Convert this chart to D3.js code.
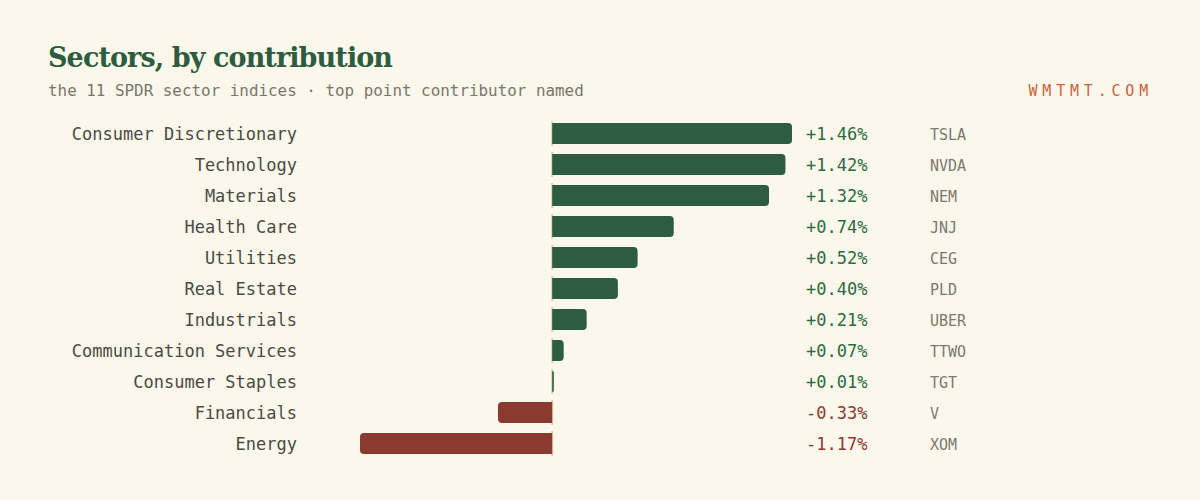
<!DOCTYPE html>
<html>
<head>
<meta charset="utf-8">
<script src="https://cdn.jsdelivr.net/npm/d3@7"></script>
<style>
  body { margin: 0; background: #fbf8eb; }
  svg { display: block; }
</style>
</head>
<body>
<div class="graph"></div>
<script>
let w = 1200;
let h = 500;

// sectors, top to bottom
let sectors = [
  "Consumer Discretionary", "Technology", "Materials", "Health Care",
  "Utilities", "Real Estate", "Industrials", "Communication Services",
  "Consumer Staples", "Financials", "Energy"
];
let contrib = [1.46, 1.42, 1.32, 0.74, 0.52, 0.40, 0.21, 0.07, 0.01, -0.33, -1.17];
let tickers = ["TSLA", "NVDA", "NEM", "JNJ", "CEG", "PLD", "UBER", "TTWO", "TGT", "V", "XOM"];

let green = "#2e5c40";
let red = "#8b3a2f";
let mono = "'DejaVu Sans Mono', 'Liberation Mono', monospace";

let data = sectors.map((s, i) => ({ sector: s, value: contrib[i], ticker: tickers[i] }));

let svg = d3.select(".graph").append("svg").attr("width", w).attr("height", h);
svg.append("rect").attr("width", w).attr("height", h).attr("fill", "#fbf8eb");

svg.append("text")
  .attr("x", 48).attr("y", 67)
  .style("font-family", "'DejaVu Serif', serif")
  .style("font-weight", "bold")
  .style("font-size", "27px")
  .style("letter-spacing", "-0.9px")
  .attr("fill", "#2e5c40")
  .text("Sectors, by contribution");

svg.append("text")
  .attr("x", 48).attr("y", 96)
  .style("font-family", mono)
  .style("font-size", "15.9px")
  .attr("fill", "#7a766c")
  .text("the 11 SPDR sector indices \u00b7 top point contributor named");

svg.append("text")
  .attr("x", 1153).attr("y", 96)
  .attr("text-anchor", "end")
  .style("font-family", mono)
  .style("font-size", "15px")
  .style("letter-spacing", "4.8px")
  .attr("fill", "#c8643e")
  .text("WMTMT.COM");

let xScale = d3.scaleLinear()
  .domain([d3.min(contrib), d3.max(contrib)])
  .range([360, 792]);

let yScale = d3.scaleBand()
  .domain(sectors)
  .range([118, 459])
  .paddingInner(0.32)
  .paddingOuter(0.16);

let x0 = xScale(0);
let bw = yScale.bandwidth();
let r = 4;

// zero marks, one per row
svg.append("g").selectAll("line")
  .data(data).enter().append("line")
  .attr("x1", x0).attr("x2", x0)
  .attr("y1", d => yScale(d.sector) - 2)
  .attr("y2", d => yScale(d.sector) + bw + 2)
  .attr("stroke", "#d8cfb6")
  .attr("stroke-width", 2);

// bars: square at zero, rounded at the far end
function barPath(d) {
  let y0 = yScale(d.sector);
  let y1 = y0 + bw;
  let xe = xScale(d.value);
  let len = Math.abs(xe - x0);
  let rr = Math.min(r, len);
  let p = d3.path();
  if (d.value >= 0) {
    p.moveTo(x0, y0);
    p.lineTo(xe - rr, y0);
    p.arcTo(xe, y0, xe, y0 + rr, rr);
    p.lineTo(xe, y1 - rr);
    p.arcTo(xe, y1, xe - rr, y1, rr);
    p.lineTo(x0, y1);
  } else {
    p.moveTo(x0, y0);
    p.lineTo(xe + rr, y0);
    p.arcTo(xe, y0, xe, y0 + rr, rr);
    p.lineTo(xe, y1 - rr);
    p.arcTo(xe, y1, xe + rr, y1, rr);
    p.lineTo(x0, y1);
  }
  p.closePath();
  return p.toString();
}

svg.append("g").selectAll("path")
  .data(data).enter().append("path")
  .attr("d", barPath)
  .attr("fill", d => d.value >= 0 ? green : red);

let rowY = d => yScale(d.sector) + bw / 2;

svg.append("g").selectAll("text")
  .data(data).enter().append("text")
  .attr("x", 297)
  .attr("y", rowY)
  .attr("dy", "0.4em")
  .attr("text-anchor", "end")
  .style("font-family", mono)
  .style("font-size", "17px")
  .attr("fill", "#4d4a44")
  .text(d => d.sector);

svg.append("g").selectAll("text")
  .data(data).enter().append("text")
  .attr("x", 806)
  .attr("y", rowY)
  .attr("dy", "0.4em")
  .style("font-family", mono)
  .style("font-size", "17px")
  .attr("fill", d => d.value >= 0 ? "#2e6a44" : red)
  .text(d => (d.value >= 0 ? "+" : "-") + Math.abs(d.value).toFixed(2) + "%");

svg.append("g").selectAll("text")
  .data(data).enter().append("text")
  .attr("x", 930)
  .attr("y", rowY)
  .attr("dy", "0.4em")
  .style("font-family", mono)
  .style("font-size", "15px")
  .attr("fill", "#7c7870")
  .text(d => d.ticker);
</script>
</body>
</html>
